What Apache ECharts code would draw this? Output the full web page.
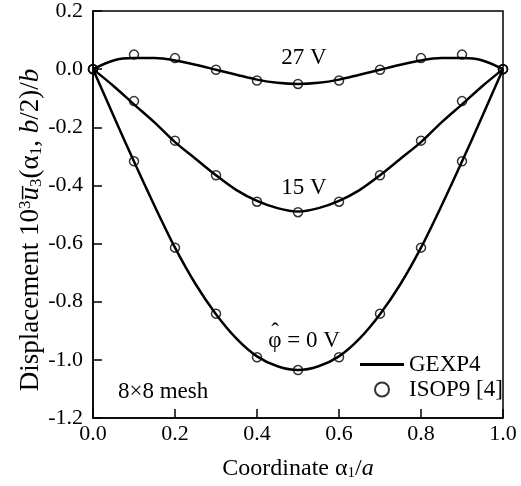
<!DOCTYPE html>
<html><head><meta charset="utf-8">
<script src="https://cdn.jsdelivr.net/npm/echarts@6/dist/echarts.min.js"></script>
<style>html,body{margin:0;padding:0;background:#fff}#c{width:521px;height:486px}</style>
</head><body><div id="c"></div>
<script>
// ---- data ----
const xLine = [0,0.05,0.1,0.15,0.2,0.25,0.3,0.35,0.4,0.45,0.5,0.55,0.6,0.65,0.7,0.75,0.8,0.85,0.9,0.95,1.0];
const gexp27 = [0,0.030,0.038,0.038,0.030,0.015,-0.002,-0.019,-0.036,-0.047,-0.051,-0.047,-0.036,-0.019,-0.002,0.015,0.030,0.038,0.038,0.030,0];
const gexp15 = [0,-0.058,-0.121,-0.183,-0.251,-0.308,-0.365,-0.416,-0.453,-0.478,-0.490,-0.478,-0.453,-0.416,-0.365,-0.308,-0.251,-0.183,-0.121,-0.058,0];
const gexp0  = [0,-0.160,-0.318,-0.470,-0.614,-0.739,-0.843,-0.927,-0.988,-1.022,-1.035,-1.022,-0.988,-0.927,-0.843,-0.739,-0.614,-0.470,-0.318,-0.160,0];
const xPts = [0,0.1,0.2,0.3,0.4,0.5,0.6,0.7,0.8,0.9,1.0];
const isop27 = [0,0.050,0.038,-0.002,-0.039,-0.051,-0.039,-0.002,0.038,0.050,0];
const isop15 = [0,-0.110,-0.246,-0.365,-0.456,-0.492,-0.456,-0.365,-0.246,-0.110,0];
const isop0  = [0,-0.317,-0.614,-0.841,-0.991,-1.035,-0.991,-0.841,-0.614,-0.317,0];
const curveLabels = ['27 V','15 V','\u03C6 = 0 V'];
const meshLabel = '8\u00D78 mesh';

const F = 'Liberation Serif, Times New Roman, serif';
const zip = (xs, ys) => xs.map((x,i)=>[x, ys[i]]);
const lineS = (d) => ({type:'line', name:'GEXP4', data: zip(xLine,d), smooth:0.3, symbol:'none',
  lineStyle:{color:'#000', width:2.5}, itemStyle:{color:'#000'}, z:2});
const scatS = (d) => ({type:'scatter', name:'ISOP9 [4]', data: zip(xPts,d), symbol:'circle', symbolSize:9,
  itemStyle:{color:'rgba(0,0,0,0)', borderColor:'#000', borderWidth:1.5}, z:3});

const yRich = {
  t:{fontFamily:F, fontSize:27, color:'#000'},
  p:{fontFamily:F, fontSize:17, color:'#000', verticalAlign:'top', padding:[0,0,11,0]},
  s:{fontFamily:F, fontSize:17, color:'#000', verticalAlign:'bottom', padding:[9,0,0,0]},
  i:{fontFamily:F, fontSize:27, color:'#000', fontStyle:'italic'}
};

const chart = echarts.init(document.getElementById('c'));
chart.setOption({
  animation:false,
  backgroundColor:'#fff',
  grid:{left:93, right:18, top:11, bottom:64, show:true, borderColor:'#000', borderWidth:1.5, backgroundColor:'transparent'},
  xAxis:{type:'value', min:0, max:1, interval:0.2,
    axisLine:{show:true, onZero:false, lineStyle:{color:'#000', width:1.5}},
    axisTick:{show:true, inside:true, length:9, lineStyle:{color:'#000', width:1.5}},
    splitLine:{show:false},
    axisLabel:{color:'#000', fontFamily:F, fontSize:22, margin:5, formatter:v=>v.toFixed(1)},
    name:'{t|Coordinate α}{s|1}{t|/}{i|a}', nameLocation:'middle', nameGap:39,
    nameTextStyle:{rich:{
      t:{fontFamily:F, fontSize:24, color:'#000'},
      s:{fontFamily:F, fontSize:15, color:'#000', verticalAlign:'bottom', padding:[8,0,0,0]},
      i:{fontFamily:F, fontSize:24, color:'#000', fontStyle:'italic'}}}
  },
  yAxis:{type:'value', min:-1.2, max:0.2, interval:0.2,
    axisLine:{show:true, onZero:false, lineStyle:{color:'#000', width:1.5}},
    axisTick:{show:true, inside:true, length:9, lineStyle:{color:'#000', width:1.5}},
    splitLine:{show:false},
    axisLabel:{color:'#000', fontFamily:F, fontSize:22, margin:10, formatter:v=>v.toFixed(1)}
  },
  legend:{orient:'vertical', left:355, top:348, itemWidth:44, itemHeight:14, itemGap:2,
    textStyle:{fontFamily:F, fontSize:23, color:'#000'},
    data:[{name:'GEXP4', icon:'path://M0,0L44,0L44,3L0,3Z'}, {name:'ISOP9 [4]', icon:'circle'}]},
  graphic:[
    {type:'text', x:31, y:230, rotation:Math.PI/2,
      style:{text:'{t|Displacement 10}{p|3}{i|u\u0305}{s|3}{t|(α}{s|1}{t|, }{i|b}{t|/2)/}{i|b}',
        rich:yRich, align:'center', verticalAlign:'middle'}},
    {type:'text', x:304, y:58, style:{text:curveLabels[0], font:'23px '+F, fill:'#000', align:'center', verticalAlign:'middle'}},
    {type:'text', x:304, y:188, style:{text:curveLabels[1], font:'23px '+F, fill:'#000', align:'center', verticalAlign:'middle'}},
    {type:'text', x:304, y:341, style:{text:curveLabels[2], font:'23px '+F, fill:'#000', align:'center', verticalAlign:'middle'}},
    {type:'text', x:275, y:333, style:{text:'\u02C6', font:'23px '+F, fill:'#000', align:'center', verticalAlign:'middle'}},
    {type:'text', x:118, y:392, style:{text:meshLabel, font:'23px '+F, fill:'#000', align:'left', verticalAlign:'middle'}}
  ],
  series:[lineS(gexp27), lineS(gexp15), lineS(gexp0), scatS(isop27), scatS(isop15), scatS(isop0)]
});
</script></body></html>
